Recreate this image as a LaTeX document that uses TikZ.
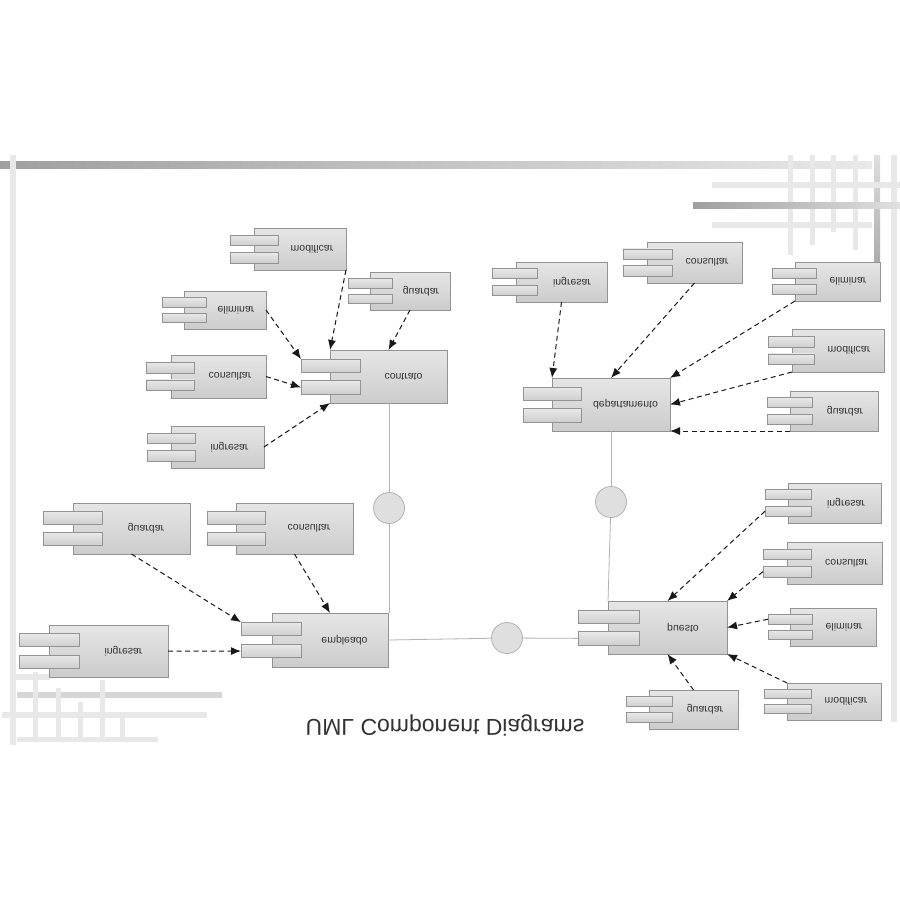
\documentclass[tikz,border=0pt]{standalone}
\usepackage{fontspec}
\setmainfont{Liberation Sans}
\usetikzlibrary{arrows.meta,calc}
\tikzset{
 compbody/.style={draw=gray!85,line width=0.7pt,top color=gray!20,bottom color=gray!40,inner sep=0pt,outer sep=0pt,rectangle},
 compport/.style={draw=gray!85,line width=0.7pt,top color=gray!18,bottom color=gray!38,inner sep=0pt,outer sep=0pt,rectangle},
 complabel/.style={transform shape,font=\fontsize{10.5}{10.5}\selectfont,text=black!80,inner sep=0pt},
 dep/.style={dash pattern=on 5pt off 3.5pt,line width=1pt,black!90,-{Latex[length=10pt,width=8pt]}},
 conn/.style={draw=gray!60,line width=0.8pt},
 iface/.style={circle,draw=gray!65,line width=0.7pt,fill=gray!25,minimum size=31pt,inner sep=0pt},
 lightbar/.style={fill=gray!18,draw=none},
 midbar/.style={fill=gray!32,draw=none},
}
\newcommand\umlcomp[8]{%
 \pgfmathsetmacro\ucW{#4-#2}\pgfmathsetmacro\ucH{#5-#3}%
 \pgfmathsetmacro\ucX{(#2+#4)/2}\pgfmathsetmacro\ucY{(#3+#5)/2}%
 \pgfmathsetmacro\ucPW{#7-#6}\pgfmathsetmacro\ucPX{(#6+#7)/2}%
 \pgfmathsetmacro\ucPH{0.25*\ucH}%
 \pgfmathsetmacro\ucPYa{#3+0.295*\ucH}\pgfmathsetmacro\ucPYb{#3+0.705*\ucH}%
 \pgfmathsetmacro\ucTX{(#7+#4)/2}%
 \node[compbody,minimum width=\ucW pt,minimum height=\ucH pt] (#1) at (\ucX,\ucY) {};
 \node[compport,minimum width=\ucPW pt,minimum height=\ucPH pt] (#1-p1) at (\ucPX,\ucPYa) {};
 \node[compport,minimum width=\ucPW pt,minimum height=\ucPH pt] (#1-p2) at (\ucPX,\ucPYb) {};
 \node[complabel] (#1-t) at (\ucTX,\ucY) {#8};
}
\begin{document}
\begin{tikzpicture}[x=1pt,y=1pt,yscale=-1]
\useasboundingbox (0,0) rectangle (900,900);
\fill[white] (0,0) rectangle (900,900);
% ---- decorative frame ----
\shade[left color=gray!75,right color=gray!18] (0,161) rectangle (872,168);
\fill[lightbar] (10,155) rectangle (16,745);
\fill[lightbar] (891,155) rectangle (897,722);
\foreach \vx/\vb in {788/255,810/245,831/232,853/250}{\fill[lightbar] (\vx,155) rectangle (\vx+5,\vb);}
\shade[top color=gray!25,bottom color=gray!65] (874,155) rectangle (880,262);
\fill[lightbar] (712,182) rectangle (900,188);
\shade[left color=gray!75,right color=gray!25] (693,202) rectangle (900,208);
\fill[lightbar] (712,222) rectangle (872,228);
% bottom-left decoration
\fill[lightbar] (10,674) rectangle (50,680);
\fill[midbar] (17,692) rectangle (222,698);
\fill[lightbar] (2,712) rectangle (207,718);
\fill[lightbar] (17,737) rectangle (158,742);
\foreach \vx/\vt in {33/672,56/688,78/702,100/680,120/718}{\fill[lightbar] (\vx,\vt) rectangle (\vx+5,742);}
% ---- contrato group ----
\umlcomp{cmod}{254}{228}{346}{270}{230}{278}{modificar}
\umlcomp{cgua}{370}{272}{450}{310}{348}{392}{guardar}
\umlcomp{celi}{184}{291}{266}{329}{162}{206}{eliminar}
\umlcomp{ccon}{171}{355}{266}{398}{146}{194}{consultar}
\umlcomp{contrato}{330}{350}{447}{403}{301}{360}{contrato}
\umlcomp{cing}{171}{426}{264}{468}{147}{195}{ingresar}
% ---- empleado group ----
\umlcomp{egua}{73}{503}{190}{554}{43}{102}{guardar}
\umlcomp{econ}{236}{503}{353}{554}{207}{265}{consultar}
\umlcomp{eing}{49}{625}{168}{677}{19}{79}{ingresar}
\umlcomp{empleado}{272}{613}{388}{667}{241}{301}{empleado}
% ---- departamento group ----
\umlcomp{ding}{516}{262}{607}{302}{492}{537}{ingresar}
\umlcomp{dcon}{647}{242}{742}{283}{623}{672}{consultar}
\umlcomp{deli}{795}{262}{880}{301}{772}{816}{eliminar}
\umlcomp{dmod}{792}{329}{884}{372}{768}{814}{modificar}
\umlcomp{dgua}{790}{391}{878}{431}{767}{812}{guardar}
\umlcomp{depto}{552}{378}{670}{431}{523}{581}{departamento}
% ---- puesto group ----
\umlcomp{ping}{788}{483}{881}{523}{765}{811}{ingresar}
\umlcomp{pcon}{787}{542}{882}{584}{763}{811}{consultar}
\umlcomp{peli}{790}{608}{876}{646}{768}{812}{eliminar}
\umlcomp{pmod}{787}{683}{881}{720}{764}{811}{modificar}
\umlcomp{pgua}{649}{690}{738}{729}{626}{672}{guardar}
\umlcomp{puesto}{608}{601}{727}{654}{578}{639}{puesto}
% ---- interfaces ----
\draw[conn] (389,508) -- (389,403);
\draw[conn] (389,508) -- (389,613);
\draw[conn] (empleado.east) -- (507,638) -- (puesto-p2.west);
\draw[conn] (611,502) -- (611,431);
\draw[conn] (611,502) -- (puesto.north west);
\node[iface] (i1) at (389,508) {};
\node[iface] (i2) at (611,502) {};
\node[iface] (i3) at (507,638) {};
% ---- dependencies ----
\draw[dep] (cmod.south east) -- (contrato.north west);
\draw[dep] (cgua.south) -- (contrato.north);
\draw[dep] (celi.east) -- (contrato-p1.north west);
\draw[dep] (ccon.east) -- (contrato-p2.west);
\draw[dep] (cing.east) -- (contrato.south west);
\draw[dep] (egua.south) -- (empleado-p1.north west);
\draw[dep] (econ.south) -- (empleado.north);
\draw[dep] (eing.east) -- (empleado-p2.west);
\draw[dep] (ding.south) -- (depto.north west);
\draw[dep] (dcon.south) -- (depto.north);
\draw[dep] (deli.south west) -- (depto.north east);
\draw[dep] (dmod.south west) -- (depto.east);
\draw[dep] (dgua.south west) -- (depto.south east);
\draw[dep] (ping-p2.west) -- (puesto.north);
\draw[dep] (pcon-p2.west) -- (puesto.north east);
\draw[dep] (peli-p1.west) -- (puesto.east);
\draw[dep] (pmod.north west) -- (puesto.south east);
\draw[dep] (pgua.north) -- (puesto.south);
% ---- title ----
\node[transform shape,font=\fontsize{23}{23}\selectfont,text=black!80,inner sep=0pt] (title) at (445,725) {UML Component Diagrams};
\end{tikzpicture}
\end{document}
